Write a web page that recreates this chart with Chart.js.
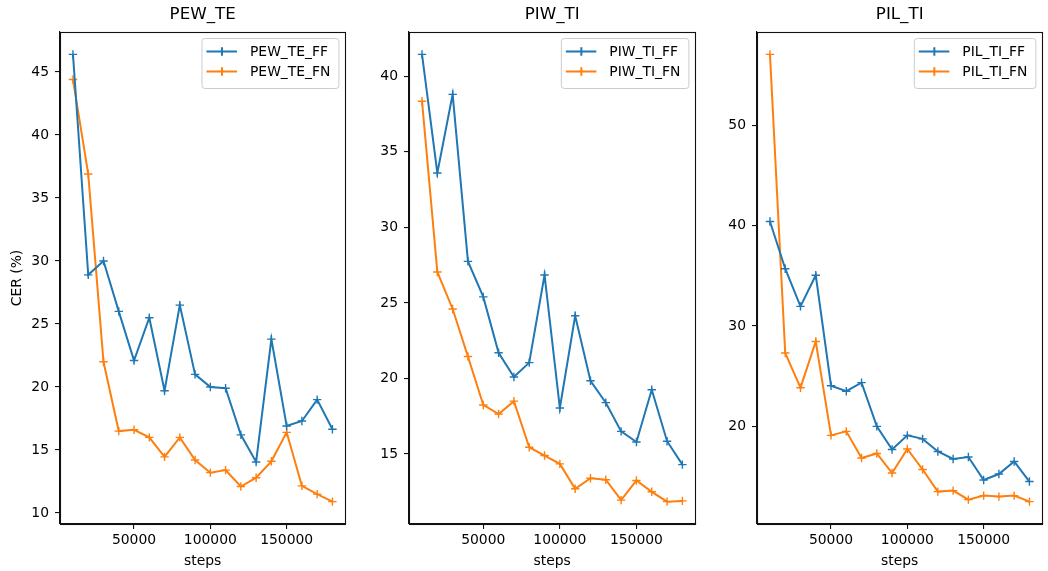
<!DOCTYPE html>
<html>
<head>
<meta charset="utf-8">
<script src="https://cdn.jsdelivr.net/npm/chart.js@4/dist/chart.umd.min.js"></script>
<style>
  html, body { margin: 0; padding: 0; background: #ffffff; }
  #wrap { position: relative; width: 1048px; height: 571px; overflow: hidden; }
  canvas { position: absolute; top: 0; }
</style>
</head>
<body>
<div id="wrap">
  <canvas id="c1"></canvas>
  <canvas id="c2"></canvas>
  <canvas id="c3"></canvas>
</div>
<script>
// training steps (x) and CER values (%)
const steps = [10000, 20000, 30000, 40000, 50000, 60000, 70000, 80000, 90000,
  100000, 110000, 120000, 130000, 140000, 150000, 160000, 170000, 180000]

const pewTeFF = [46.4, 28.9, 30.0, 26.0, 22.1, 25.5, 19.7, 26.5, 21.0, 20.0, 19.9, 16.2, 14.05, 23.8, 16.9, 17.3, 19.0, 16.65]
const pewTeFN = [44.4, 36.9, 22.0, 16.5, 16.6, 16.0, 14.45, 16.0, 14.2, 13.2, 13.4, 12.1, 12.8, 14.1, 16.4, 12.15, 11.5, 10.9]

const piwTiFF = [41.45, 33.6, 38.8, 27.75, 25.4, 21.7, 20.1, 21.05, 26.85, 18.05, 24.15, 19.85, 18.4, 16.5, 15.8, 19.25, 15.85, 14.3]
const piwTiFN = [38.35, 27.05, 24.6, 21.45, 18.25, 17.65, 18.5, 15.45, 14.9, 14.35, 12.7, 13.4, 13.3, 11.95, 13.25, 12.5, 11.85, 11.9]

const pilTiFF = [40.4, 35.7, 31.95, 35.05, 24.05, 23.5, 24.35, 20.0, 17.7, 19.1, 18.75, 17.5, 16.75, 16.95, 14.65, 15.25, 16.5, 14.5]
const pilTiFN = [57.05, 27.3, 23.85, 28.45, 19.1, 19.5, 16.85, 17.3, 15.35, 17.75, 15.7, 13.5, 13.6, 12.7, 13.1, 13.0, 13.1, 12.5]

// tick labels
const xTicks = [50000, 100000, 150000]
const pewYTicks = [10, 15, 20, 25, 30, 35, 40, 45]
const piwYTicks = [15, 20, 25, 30, 35, 40]
const pilYTicks = [20, 30, 40, 50]

const BLUE = '#1f77b4'
const ORANGE = '#ff7f0e'
const FONT = 'DejaVu Sans'
const H = 571

// matplotlib-like 5% margins
function pad(lo, hi) {
  const m = (hi - lo) * 0.05
  return [lo - m, hi + m]
}

// frame, title and in-axes legend
const panelDecor = {
  id: 'panelDecor',
  afterDraw(chart, args, opts) {
    const { ctx, chartArea: a } = chart
    ctx.save()

    // spines
    ctx.strokeStyle = '#111'
    ctx.lineWidth = 1.1
    ctx.strokeRect(Math.round(a.left) + 0.5, Math.round(a.top) + 0.5,
      Math.round(a.right - a.left), Math.round(a.bottom - a.top))

    // title
    ctx.fillStyle = '#000'
    ctx.font = '16.7px "' + FONT + '"'
    ctx.textAlign = 'center'
    ctx.textBaseline = 'middle'
    ctx.fillText(opts.title, (a.left + a.right) / 2, a.top - 17)

    // legend
    ctx.font = '13.9px "' + FONT + '"'
    const sets = chart.data.datasets
    const tw = Math.max(...sets.map(d => ctx.measureText(d.label).width))
    const bw = 48.5 + tw + 8
    const bh = 50
    const bx = a.right - 7 - bw
    const by = a.top + 6
    ctx.beginPath()
    ctx.roundRect(bx + 0.5, by + 0.5, bw, bh, 3)
    ctx.fillStyle = 'rgba(255,255,255,0.8)'
    ctx.fill()
    ctx.strokeStyle = '#cccccc'
    ctx.lineWidth = 1
    ctx.stroke()

    sets.forEach((d, i) => {
      const y = by + 13.5 + i * 20
      ctx.strokeStyle = d.borderColor
      ctx.lineWidth = 2
      ctx.beginPath()
      ctx.moveTo(bx + 5, y)
      ctx.lineTo(bx + 35.5, y)
      ctx.moveTo(bx + 20.5, y - 4.2)
      ctx.lineTo(bx + 20.5, y + 4.2)
      ctx.stroke()
      ctx.fillStyle = '#000'
      ctx.textAlign = 'left'
      ctx.textBaseline = 'middle'
      ctx.fillText(d.label, bx + 48.5, y + 1)
    })
    ctx.restore()
  }
}

function series(label, values, color) {
  return {
    label,
    data: steps.map((s, i) => ({ x: s, y: values[i] })),
    borderColor: color,
    backgroundColor: color,
    borderWidth: 2,
    tension: 0,
    pointStyle: 'cross',
    pointRadius: 4.2,
    pointBorderWidth: 1.4,
    pointBorderColor: color,
    pointHoverRadius: 4.2
  }
}

function panel(id, cfg) {
  const canvas = document.getElementById(id)
  const w = cfg.plotRight - cfg.plotLeft + 60 + 1
  canvas.width = w
  canvas.height = H
  canvas.style.left = (cfg.plotLeft - 60) + 'px'
  canvas.style.width = w + 'px'
  canvas.style.height = H + 'px'

  const all = cfg.ff.concat(cfg.fn)
  const [yMin, yMax] = pad(Math.min(...all), Math.max(...all))
  const [xMin, xMax] = pad(steps[0], steps[steps.length - 1])

  const axisLine = { color: '#111', width: 1.1 }
  const tickFont = { family: FONT, size: 13.9 }

  return new Chart(canvas, {
    type: 'line',
    data: {
      datasets: [
        series(cfg.names[0], cfg.ff, BLUE),
        series(cfg.names[1], cfg.fn, ORANGE)
      ]
    },
    options: {
      responsive: false,
      devicePixelRatio: 1,
      animation: false,
      layout: { padding: { top: cfg.plotTop, right: 1, left: 0, bottom: 0 } },
      plugins: {
        legend: { display: false },
        tooltip: { enabled: false },
        panelDecor: { title: cfg.title }
      },
      scales: {
        x: {
          type: 'linear',
          min: xMin,
          max: xMax,
          afterBuildTicks: s => { s.ticks = xTicks.map(v => ({ value: v })) },
          afterFit: s => { s.height = H - cfg.plotBottom },
          grid: { drawOnChartArea: false, drawTicks: true, tickLength: 5, color: '#111', lineWidth: 1.1 },
          border: axisLine,
          ticks: { font: tickFont, color: '#000', padding: 3, maxRotation: 0, autoSkip: false, callback: v => String(v) },
          title: { display: true, text: 'steps', color: '#000', font: tickFont, padding: { top: 0, bottom: 1 } }
        },
        y: {
          min: yMin,
          max: yMax,
          afterBuildTicks: s => { s.ticks = cfg.yTicks.map(v => ({ value: v })) },
          afterFit: s => { s.width = 60 },
          grid: { drawOnChartArea: false, drawTicks: true, tickLength: 5, color: '#111', lineWidth: 1.1 },
          border: axisLine,
          ticks: { font: tickFont, color: '#000', padding: 6, callback: v => String(v) },
          title: { display: cfg.yTitle, text: 'CER (%)', color: '#000', font: tickFont, padding: { top: 9, bottom: 0 } }
        }
      }
    },
    plugins: [panelDecor]
  })
}

panel('c1', {
  title: 'PEW_TE', names: ['PEW_TE_FF', 'PEW_TE_FN'], ff: pewTeFF, fn: pewTeFN,
  yTicks: pewYTicks, yTitle: true, plotLeft: 60, plotRight: 350, plotTop: 32, plotBottom: 524
})
panel('c2', {
  title: 'PIW_TI', names: ['PIW_TI_FF', 'PIW_TI_FN'], ff: piwTiFF, fn: piwTiFN,
  yTicks: piwYTicks, yTitle: false, plotLeft: 409, plotRight: 700, plotTop: 32, plotBottom: 524
})
panel('c3', {
  title: 'PIL_TI', names: ['PIL_TI_FF', 'PIL_TI_FN'], ff: pilTiFF, fn: pilTiFN,
  yTicks: pilYTicks, yTitle: false, plotLeft: 757, plotRight: 1047, plotTop: 32, plotBottom: 524
})
</script>
</body>
</html>
